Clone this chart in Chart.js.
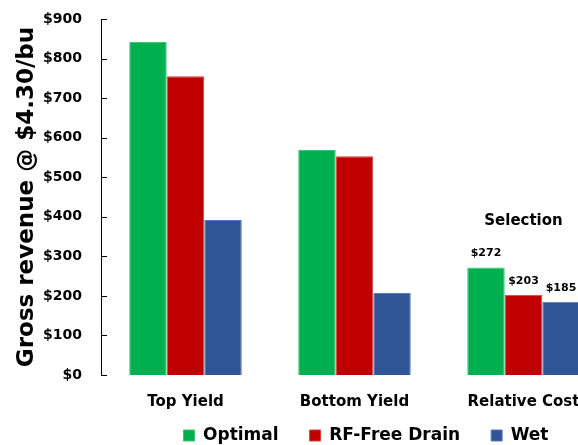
<!DOCTYPE html>
<html>
<head>
<meta charset="utf-8">
<script src="https://cdn.jsdelivr.net/npm/chart.js"></script>
<style>
  html, body { margin: 0; padding: 0; background: #fff; overflow: hidden; }
  #wrap { width: 578px; height: 445px; overflow: hidden; }
</style>
</head>
<body>
<div id="wrap"><canvas id="chart" width="728" height="487"></canvas></div>
<script>
// chart data
var categories = ['Top Yield', 'Bottom Yield', 'Relative Cost'];
var optimal    = [842, 569, 272];
var rfFree     = [755, 553, 203];
var wet        = [392, 207, 185];
var seriesNames = ['Optimal', 'RF-Free Drain', 'Wet'];
var yTicks = [0, 100, 200, 300, 400, 500, 600, 700, 800, 900];
var labelledCategory = 2;          // only these bars get value labels
var noteText = 'Selection';
var noteValue = 390;               // height of the note on the value axis

var FONT = "'DejaVu Sans', sans-serif";
var LEGEND_SHIFT = { x: 62, y: -33 }; // legend sits off-centre in the original

function money(v){ return '$' + v; }

// move the legend box where the original had it
var legendShift = {
  id: 'legendShift',
  afterLayout: function(chart){
    var l = chart.legend;
    l.left += LEGEND_SHIFT.x; l.right += LEGEND_SHIFT.x;
    l.top += LEGEND_SHIFT.y;  l.bottom += LEGEND_SHIFT.y;
  }
};

// little ticks drawn inside the plot, and the labels above the cost bars
var extras = {
  id: 'extras',
  afterDraw: function(chart){
    var ctx = chart.ctx;
    var y = chart.scales.y, x = chart.scales.x;
    ctx.save();
    ctx.strokeStyle = '#000';
    ctx.lineWidth = 1;
    y.ticks.forEach(function(t){
      var py = Math.round(y.getPixelForValue(t.value)) + 0.5;
      ctx.beginPath();
      ctx.moveTo(y.right, py);
      ctx.lineTo(y.right + 6, py);
      ctx.stroke();
    });

    ctx.fillStyle = '#000';
    ctx.textAlign = 'center';
    ctx.textBaseline = 'middle';
    ctx.font = 'bold 11px ' + FONT;
    chart.data.datasets.forEach(function(ds, i){
      var bar = chart.getDatasetMeta(i).data[labelledCategory];
      ctx.fillText(money(ds.data[labelledCategory]), bar.x, bar.y - 14);
    });

    ctx.font = 'bold 15px ' + FONT;
    ctx.fillText(noteText, x.getPixelForValue(labelledCategory), y.getPixelForValue(noteValue));
    ctx.restore();
  }
};

new Chart(document.getElementById('chart'), {
  type: 'bar',
  data: {
    labels: categories,
    datasets: [
      { label: seriesNames[0], data: optimal, backgroundColor: '#00B050', borderColor: '#3CC477', borderWidth: 1 },
      { label: seriesNames[1], data: rfFree,  backgroundColor: '#C00000', borderColor: '#D24040', borderWidth: 1 },
      { label: seriesNames[2], data: wet,     backgroundColor: '#2F5597', borderColor: '#5B7BBF', borderWidth: 1 }
    ]
  },
  options: {
    responsive: false,
    animation: false,
    layout: { padding: { top: 0, right: 120, left: 0, bottom: 0 } },
    datasets: { bar: { categoryPercentage: 0.666, barPercentage: 1 } },
    plugins: {
      tooltip: { enabled: false },
      legend: {
        position: 'bottom',
        labels: {
          color: '#000',
          font: { family: FONT, size: 17, weight: 'bold' },
          boxWidth: 11, boxHeight: 11,
          padding: 31
        }
      }
    },
    scales: {
      x: {
        grid: { display: false, drawTicks: false },
        border: { display: false },
        ticks: { color: '#000', padding: 18, font: { family: FONT, size: 15, weight: 'bold' } }
      },
      y: {
        min: 0, max: 900,
        afterBuildTicks: function(s){ s.ticks = yTicks.map(function(v){ return { value: v }; }); },
        afterFit: function(s){ s.width = 101; s.paddingTop = 19; },
        grid: { display: false, drawTicks: false },
        border: { display: true, color: '#000', width: 1 },
        ticks: { color: '#000', padding: 19, font: { family: FONT, size: 14, weight: 'bold' },
                 callback: function(v){ return money(v); } },
        title: { display: true, text: 'Gross revenue @ $4.30/bu', color: '#000',
                 font: { family: FONT, size: 23, weight: 'bold' }, padding: { top: 13, bottom: 0 } }
      }
    }
  },
  plugins: [legendShift, extras]
});
</script>
</body>
</html>
